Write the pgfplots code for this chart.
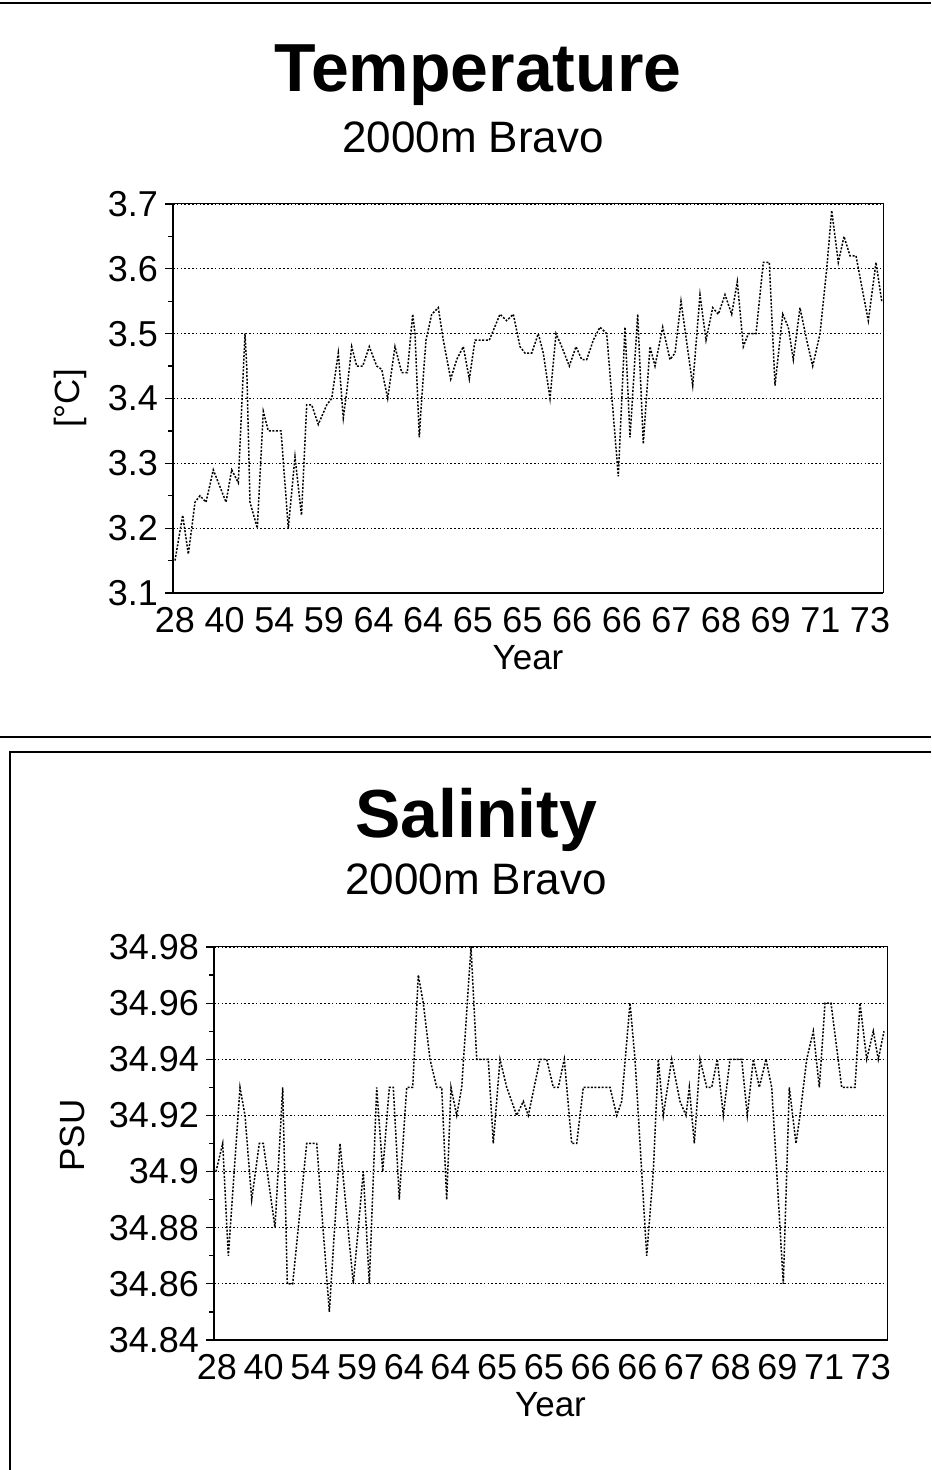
\documentclass[border=0pt]{standalone}
\usepackage{fontspec}
\setmainfont{Liberation Sans}
\usepackage{pgfplots}
\pgfplotsset{compat=1.18}
\pgfplotsset{
  bravo/.style={
    anchor=south west, scale only axis,
    ymajorgrids,
    grid style={black, dash pattern=on 0.8pt off 1.1pt, line width=0.55pt},
    tick label style={font=\fontsize{18}{18}\selectfont},
    xticklabel style={text height=1.3ex, text depth=0.2ex, yshift=-5.5pt},
    label style={font=\fontsize{17.5}{18}\selectfont},
    axis line style={line width=0.5pt},
    xtick style={draw=none},
    ytick style={black, line width=0.6pt},
    ytick pos=left,
    tick align=outside, major tick length=4pt, minor tick length=2.5pt,
    xticklabels={28,40,54,59,64,64,65,65,66,66,67,68,69,71,73},
    xlabel={Year},
    after end axis/.code={\draw[line width=1.1pt] (rel axis cs:0,1) -- (rel axis cs:0,0) -- (rel axis cs:1,0);},
  },
  dataline/.style={black, dash pattern=on 1pt off 0.8pt, line width=0.75pt},
}
\begin{document}
\begin{tikzpicture}
\begin{scope}[x=0.5pt,y=0.5pt]
\path[use as bounding box] (0,0) rectangle (931,1470);
\draw[line width=1.1pt] (0,1467) -- (931,1467);
\draw[line width=0.9pt] (0,733) -- (931,733);
\draw[line width=0.9pt] (10,0) -- (10,718) -- (931,718);
\node[anchor=base, font=\fontsize{34}{40}\selectfont\bfseries] at (478,1378) {Temperature};
\node[anchor=base, font=\fontsize{22}{26}\selectfont] at (473,1317) {2000m Bravo};
\node[anchor=base, font=\fontsize{34}{40}\selectfont\bfseries] at (476,632) {Salinity};
\node[anchor=base, font=\fontsize{22}{26}\selectfont] at (476,575) {2000m Bravo};
\end{scope}

\begin{axis}[bravo,
  at={(86.5pt,438.5pt)}, width=355pt, height=194.5pt,
  xmin=173, xmax=883, ymin=3.1, ymax=3.7,
  xtick={175,224.6,274.3,323.9,373.6,423.2,472.8,522.5,572.1,621.8,671.4,721,770.7,820.3,870},
  ytick={3.1,3.2,3.3,3.4,3.5,3.6,3.7},
  yticklabels={3.1,3.2,3.3,3.4,3.5,3.6,3.7},
  minor ytick={3.15,3.25,3.35,3.45,3.55,3.65},
  ylabel={[°C]},
  ylabel style={at={(axis description cs:-0.145,0.5)},anchor=center},
  xlabel style={at={(axis description cs:0.5,-0.167)},anchor=center},
]
\addplot[dataline] coordinates {
(175,3.15)(182.7,3.22)(188.3,3.16)(191.7,3.20)(195,3.24)(200,3.25)(206,3.24)(213.3,3.29)(226,3.24)(231.7,3.29)(238.3,3.27)(245,3.50)(246.7,3.45)(250,3.24)(257.3,3.20)(263.3,3.38)(268.3,3.35)(281,3.35)(288.3,3.20)(295,3.31)(300,3.24)(301.5,3.22)(306.7,3.39)(311.7,3.39)(318.3,3.36)(326.7,3.39)(331.7,3.40)(338.3,3.47)(343.3,3.37)(346.7,3.41)(351.7,3.48)(356.7,3.45)(362.7,3.45)(369.3,3.48)(376.7,3.45)(381.7,3.445)(387.7,3.40)(395,3.48)(401.7,3.44)(407.3,3.44)(412.7,3.53)(415,3.50)(419.3,3.34)(421.7,3.40)(426,3.49)(431.7,3.53)(438.3,3.54)(443.3,3.49)(450.7,3.43)(456.7,3.46)(463.3,3.48)(469.3,3.43)(475,3.49)(481.7,3.49)(489.3,3.49)(500,3.53)(506.7,3.52)(513.3,3.53)(520,3.48)(525,3.47)(531.7,3.47)(538.3,3.50)(543.3,3.47)(550,3.40)(556,3.50)(561.7,3.48)(569.3,3.45)(576,3.48)(581.7,3.46)(586.7,3.46)(593.3,3.49)(600,3.51)(606.7,3.50)(618.3,3.28)(625,3.51)(630,3.34)(637.7,3.53)(643.3,3.33)(650,3.48)(655,3.45)(662.7,3.51)(670,3.46)(675,3.47)(681,3.55)(692.7,3.42)(700,3.56)(706,3.49)(712.7,3.54)(718.3,3.53)(725,3.56)(731.7,3.53)(737.3,3.58)(743.3,3.48)(748.3,3.50)(756,3.50)(763.3,3.61)(769.3,3.61)(775,3.42)(782.7,3.53)(788.3,3.51)(793.3,3.46)(800,3.54)(806.7,3.49)(812.7,3.45)(820,3.50)(826.7,3.60)(831.7,3.69)(838.3,3.61)(844,3.65)(850,3.62)(856,3.62)(863.3,3.56)(868.3,3.52)(876,3.61)(881.7,3.55)
};
\end{axis}

\begin{axis}[bravo,
  at={(107pt,65pt)}, width=336.5pt, height=196.5pt,
  xmin=214, xmax=887, ymin=34.84, ymax=34.98,
  xtick={217,263.7,310.4,357.1,403.8,450.5,497.2,543.9,590.6,637.3,684,730.7,777.4,824.1,870.8},
  ytick={34.84,34.86,34.88,34.90,34.92,34.94,34.96,34.98},
  yticklabels={34.84,34.86,34.88,34.9,34.92,34.94,34.96,34.98},
  minor ytick={34.85,34.87,34.89,34.91,34.93,34.95,34.97},
  ylabel={PSU},
  ylabel style={at={(axis description cs:-0.211,0.52)},anchor=center},
  xlabel style={at={(axis description cs:0.5,-0.165)},anchor=center},
]
\addplot[dataline] coordinates {
(216,34.90)(222.7,34.91)(228.3,34.87)(240,34.93)(245,34.92)(251.7,34.89)(259.3,34.91)(263.3,34.91)(275,34.88)(282.7,34.93)(287.3,34.86)(292.7,34.86)(306.7,34.91)(316.7,34.91)(329.3,34.85)(340,34.91)(353.3,34.86)(363.3,34.90)(369.3,34.86)(376.7,34.93)(382.7,34.90)(389.3,34.93)(393.3,34.93)(399.3,34.89)(406.7,34.93)(412.7,34.93)(418.3,34.97)(423.3,34.96)(430,34.94)(436.7,34.93)(441.7,34.93)(446.7,34.89)(451,34.93)(456.7,34.92)(461.7,34.93)(471,34.98)(476.7,34.94)(488.3,34.94)(493.3,34.91)(500,34.94)(506.7,34.93)(516.7,34.92)(523.3,34.925)(528.3,34.92)(540,34.94)(546.7,34.94)(553.3,34.93)(558.3,34.93)(564.3,34.94)(571.7,34.91)(576.7,34.91)(583.3,34.93)(610,34.93)(616.7,34.92)(621.7,34.925)(630,34.96)(635,34.94)(646.7,34.87)(653.3,34.90)(658.3,34.94)(663.3,34.92)(671.7,34.94)(680,34.925)(686,34.92)(689.3,34.93)(694.3,34.91)(700,34.94)(706.7,34.93)(711.7,34.93)(717.3,34.94)(723.3,34.92)(730,34.94)(741.7,34.94)(747.3,34.92)(753.3,34.94)(759.3,34.93)(766,34.94)(771.7,34.93)(776.7,34.90)(783.3,34.86)(789.3,34.93)(796,34.91)(800,34.92)(806.7,34.94)(813.3,34.95)(819.3,34.93)(825,34.96)(831,34.96)(841.7,34.93)(855,34.93)(860,34.96)(866.7,34.94)(873.3,34.95)(878.3,34.94)(884,34.95)
};
\end{axis}
\end{tikzpicture}
\end{document}
